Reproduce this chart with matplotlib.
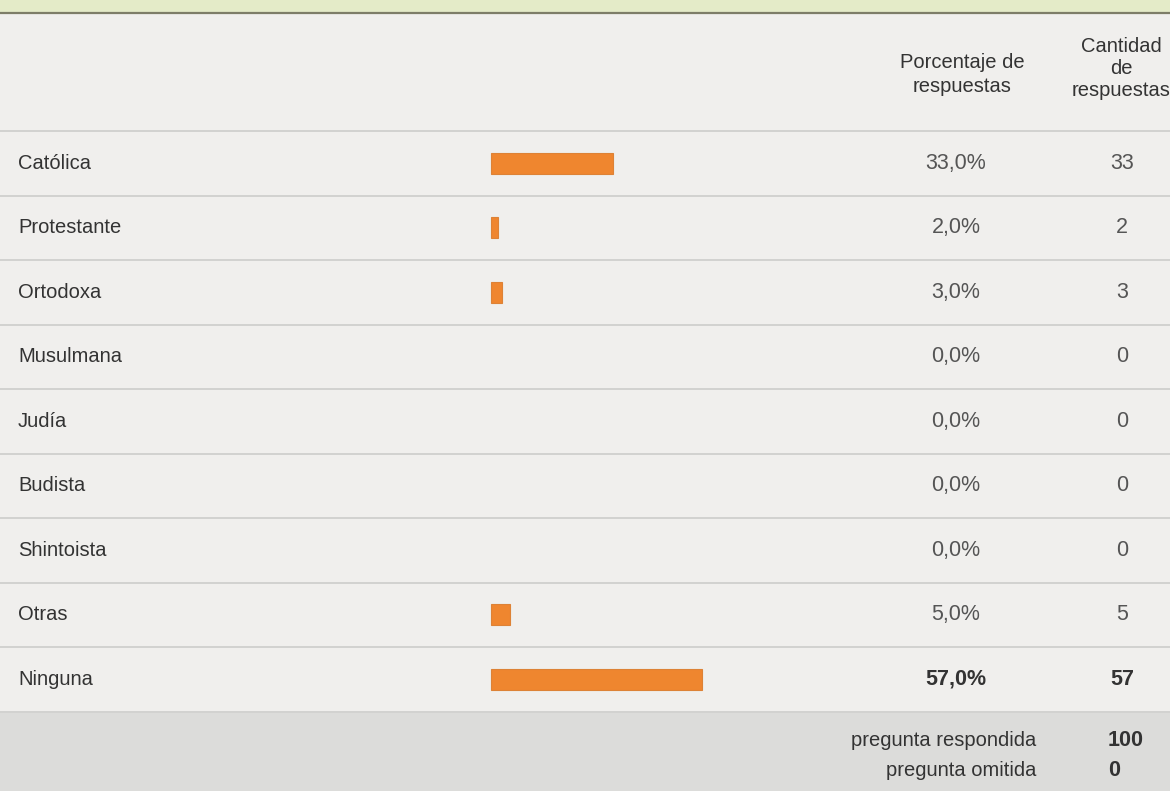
import numpy as np
import matplotlib.pyplot as plt
from matplotlib.patches import Rectangle

plt.rcParams['font.family'] = ['Liberation Sans', 'DejaVu Sans']

# Datos de la encuesta
categorias = ['Católica', 'Protestante', 'Ortodoxa', 'Musulmana', 'Judía',
              'Budista', 'Shintoista', 'Otras', 'Ninguna']
porcentajes = [33.0, 2.0, 3.0, 0.0, 0.0, 0.0, 0.0, 5.0, 57.0]
cantidades = [33, 2, 3, 0, 0, 0, 0, 5, 57]
respondida = 100
omitida = 0

W, H = 1170, 791
fig = plt.figure(figsize=(W / 100, H / 100), dpi=100)
ax = fig.add_axes([0, 0, 1, 1])
ax.set_xlim(0, W)
ax.set_ylim(H, 0)
ax.axis('off')

fondo = '#f0efed'
ax.add_patch(Rectangle((0, 0), W, H, color=fondo, zorder=0))
# franja verde superior
ax.add_patch(Rectangle((0, 0), W, 12, color='#e4ebc8', zorder=1))
ax.plot([0, W], [12.5, 12.5], color='#7d7d68', lw=1.6, zorder=2)

texto = '#333333'
gris = '#555555'
fs = 14.5
fn = 15.5

# encabezados, línea por línea
for y, s in zip([62, 87], ['Porcentaje de', 'respuestas']):
    ax.text(962, y, s, ha='center', va='center', fontsize=fs, color=texto)
for y, s in zip([47, 68, 90], ['Cantidad', 'de', 'respuestas']):
    ax.text(1121, y, s, ha='center', va='center', fontsize=fs, color=texto)

top = 131
alto = 64.5
centros = top + alto * (np.arange(len(categorias)) + 0.5)

# líneas de separación
for i in range(len(categorias) + 1):
    y = top + alto * i
    ax.plot([0, W], [y, y], color='#d2d2d0', lw=1.4, zorder=2)

# pie gris
pie_y = top + alto * len(categorias) + 1
ax.add_patch(Rectangle((0, pie_y), W, H - pie_y, color='#dcdcda', zorder=1))

# barras (solo las que tienen respuestas)
x0 = 491
escala = 3.7
pct = np.array(porcentajes)
hay = pct > 0
ax.barh(centros[hay], pct[hay] * escala, left=x0, height=21,
        color='#ef862f', edgecolor='#dd8236', lw=0.8, zorder=3)

ultimo = len(categorias) - 1
for i, (cat, p, n) in enumerate(zip(categorias, porcentajes, cantidades)):
    peso = 'bold' if i == ultimo else 'normal'
    col = texto if i == ultimo else gris
    ax.text(18, centros[i], cat, ha='left', va='center', fontsize=fs,
            color=texto)
    ax.text(956, centros[i], f'{p:.1f}%'.replace('.', ','), ha='center',
            va='center', fontsize=fn, color=col, fontweight=peso)
    ax.text(1122, centros[i], str(n), ha='center', va='center',
            fontsize=fn, color=col, fontweight=peso)

ax.text(1036, 740, 'pregunta respondida', ha='right', va='center',
        fontsize=fs, color=texto)
ax.text(1036, 771, 'pregunta omitida', ha='right', va='center',
        fontsize=fs, color=texto)
ax.text(1108, 740, str(respondida), ha='left', va='center', fontsize=fn,
        color=texto, fontweight='bold')
ax.text(1108, 771, str(omitida), ha='left', va='center', fontsize=fn,
        color=texto, fontweight='bold')

fig.savefig('out.png', dpi=100, facecolor=fondo)
